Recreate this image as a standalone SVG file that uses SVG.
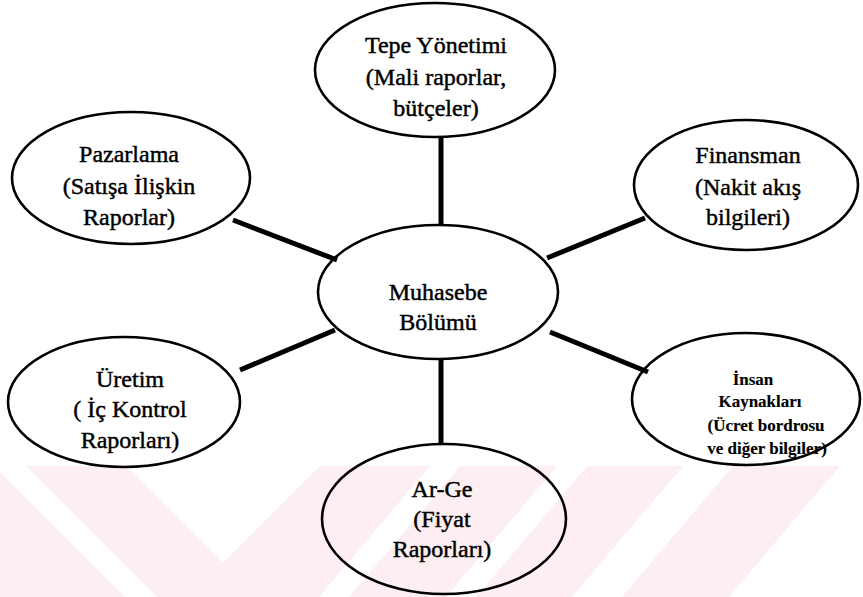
<svg xmlns="http://www.w3.org/2000/svg" width="863" height="597" viewBox="0 0 863 597">
  <style>
    .node ellipse { fill: none; stroke: #000; stroke-width: 2.6; }
    .node text { font-family: 'Liberation Serif', 'Times New Roman', serif; font-size: 24px; fill: #000; stroke: #000; stroke-width: 0.45; text-anchor: middle; }
    .node text.small { font-size: 17px; font-weight: bold; stroke-width: 0.15; }
    .link { stroke: #000; stroke-width: 5; stroke-linecap: butt; }
    .wm { fill: #fdeef1; }
    .wm-gap { fill: #fff; }
  </style>

  <rect width="863" height="597" fill="#fff"/>

  <!-- faint background watermark band -->
  <g id="watermark">
    <rect class="wm" x="0" y="466" width="843" height="131"/>
    <polygon class="wm-gap" points="-6,466 26,466 157,597 125,597"/>
    <polygon class="wm-gap" points="127,466 320,466 223.5,562.5"/>
    <polygon class="wm-gap" points="430,466 460,466 349,597 319,597"/>
    <polygon class="wm-gap" points="557,466 587,466 476,597 446,597"/>
    <polygon class="wm-gap" points="683,466 733,466 622,597 572,597"/>
    <polygon class="wm-gap" points="840,466 863,466 863,597 729,597"/>
  </g>

  <!-- connectors from the central node -->
  <g id="connectors">
    <line class="link" x1="441" y1="136" x2="441" y2="226"/>
    <line class="link" x1="441" y1="358" x2="441" y2="445"/>
    <line class="link" x1="233" y1="220" x2="337" y2="260"/>
    <line class="link" x1="547" y1="258" x2="645" y2="218"/>
    <line class="link" x1="240" y1="370" x2="335" y2="330"/>
    <line class="link" x1="550" y1="332" x2="648" y2="372"/>
  </g>

  <g id="tepe-yonetimi" class="node">
    <ellipse cx="435" cy="70" rx="120" ry="67"/>
    <text x="436" y="53">Tepe Yönetimi</text>
    <text x="436" y="85">(Mali raporlar,</text>
    <text x="436" y="116">bütçeler)</text>
  </g>

  <g id="pazarlama" class="node">
    <ellipse cx="131" cy="178" rx="119" ry="66"/>
    <text x="129" y="162">Pazarlama</text>
    <text x="129" y="194">(Satışa İlişkin</text>
    <text x="129" y="225">Raporlar)</text>
  </g>

  <g id="finansman" class="node">
    <ellipse cx="746" cy="185" rx="112" ry="65"/>
    <text x="748" y="163">Finansman</text>
    <text x="748" y="195">(Nakit akış</text>
    <text x="748" y="225">bilgileri)</text>
  </g>

  <g id="muhasebe" class="node">
    <ellipse cx="438" cy="292" rx="120" ry="67"/>
    <text x="438" y="300">Muhasebe</text>
    <text x="438" y="330">Bölümü</text>
  </g>

  <g id="uretim" class="node">
    <ellipse cx="124" cy="402" rx="116" ry="65"/>
    <text x="130" y="387">Üretim</text>
    <text x="130" y="417">( İç Kontrol</text>
    <text x="130" y="448">Raporları)</text>
  </g>

  <g id="insan-kaynaklari" class="node">
    <ellipse cx="746" cy="399" rx="114" ry="66"/>
    <text class="small" x="753" y="385">İnsan</text>
    <text class="small" x="760" y="407">Kaynakları</text>
    <text class="small" x="766" y="431">(Ücret bordrosu</text>
    <text class="small" x="767" y="454">ve diğer bilgiler)</text>
  </g>

  <g id="ar-ge" class="node">
    <ellipse cx="444" cy="519" rx="122" ry="75"/>
    <text x="442" y="497">Ar-Ge</text>
    <text x="442" y="527">(Fiyat</text>
    <text x="442" y="557">Raporları)</text>
  </g>
</svg>
